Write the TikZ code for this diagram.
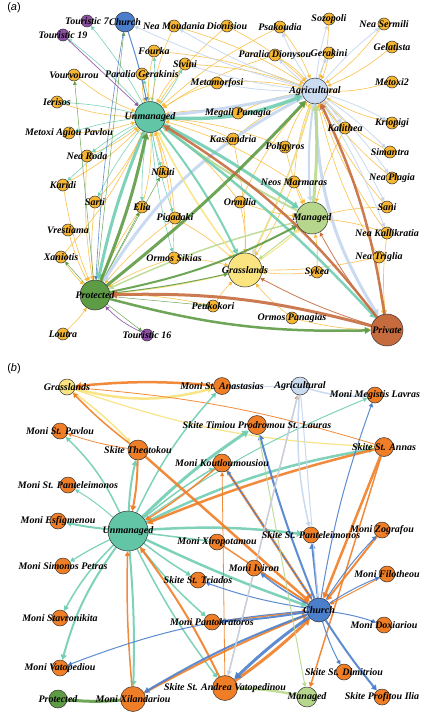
\documentclass[tikz,border=0pt]{standalone}
\usepackage{fontspec}
\setmainfont{Liberation Serif}
\setsansfont{Liberation Sans}
\usetikzlibrary{arrows.meta}
\pgfdeclarelayer{edges}
\pgfdeclarelayer{labels}
\pgfsetlayers{edges,main,labels}
\definecolor{cSet}{HTML}{F6B632}
\definecolor{cSetE}{HTML}{F8BB3A}
\definecolor{cMon}{HTML}{F07E26}
\definecolor{cUnm}{HTML}{62C6A6}
\definecolor{cUnmE}{HTML}{6FCDB1}
\definecolor{cAgr}{HTML}{CCDCF0}
\definecolor{cAgrE}{HTML}{C3D6EF}
\definecolor{cMan}{HTML}{B5D68B}
\definecolor{cManE}{HTML}{B9DA8F}
\definecolor{cGra}{HTML}{F9E47F}
\definecolor{cGraE}{HTML}{F8E27A}
\definecolor{cPri}{HTML}{C56B3E}
\definecolor{cPro}{HTML}{5E9B45}
\definecolor{cChu}{HTML}{4B7FCB}
\definecolor{cTou}{HTML}{8E4FA5}
\tikzset{
  nd/.style={circle, draw=black!80, line width=0.5pt, inner sep=0pt, minimum size=#1},
  setn/.style={nd=12pt, fill=cSet},
  monn/.style={nd=16pt, fill=cMon},
  lab/.style={font=\bfseries\itshape\fontsize{10}{11}\selectfont, inner sep=0pt, text=black},
  ed/.style={line width=#1, draw opacity=0.9, -{Triangle[length=3pt 1.2, width=3pt 1.5]}},
  ed/.default=0.6pt,
  ln/.style={line width=#1, draw opacity=0.9},
  bvl/.style={bend right=#1},
  bvr/.style={bend left=#1},
}
\newcommand{\mkn}[5]{\node[#2] (#1) at (#3,#4) {};%
  \begin{pgfonlayer}{labels}\node[lab] (#1-l) at (#3,#4) {#5};\end{pgfonlayer}}
\begin{document}
\begin{tikzpicture}[x=1pt,y=-1pt]
\useasboundingbox (0,0) rectangle (424,715);
% ---------------- panel (a) nodes
\mkn{aUnm}{nd=31pt,fill=cUnm}{150}{117}{Unmanaged}
\mkn{aAgr}{nd=26pt,fill=cAgr}{315}{91}{Agricultural}
\mkn{aMan}{nd=32pt,fill=cMan}{312}{218}{Managed}
\mkn{aGra}{nd=34pt,fill=cGra}{245}{270}{Grasslands}
\mkn{aPri}{nd=32pt,fill=cPri}{387}{330}{Private}
\mkn{aPro}{nd=30pt,fill=cPro}{95}{295}{Protected}
\mkn{aChu}{nd=20pt,fill=cChu}{125}{22}{Church}
\mkn{aTsv}{nd=12pt,fill=cTou}{87}{21}{Touristic 7}
\mkn{aTnn}{nd=12pt,fill=cTou}{63}{35}{Touristic 19}
\mkn{aTsx}{nd=12pt,fill=cTou}{147}{335}{Touristic 16}
\mkn{sNMo}{setn}{174}{26}{Nea Moudania}
\mkn{sFou}{setn}{154}{51}{Fourka}
\mkn{sSiv}{setn}{185}{64}{Sivini}
\mkn{sVou}{setn}{74}{75}{Vourvourou}
\mkn{sPGe}{setn}{142}{74}{Paralia Gerakinis}
\mkn{sIer}{setn}{57}{102}{Ierisos}
\mkn{sMAP}{setn}{69}{133}{Metoxi Agiou Pavlou}
\mkn{sNRo}{setn}{87}{156}{Nea Roda}
\mkn{sKar}{setn}{63}{185}{Karidi}
\mkn{sSar}{setn}{95}{202}{Sarti}
\mkn{sEli}{setn}{142}{207}{Elia}
\mkn{sNik}{setn}{163}{172}{Nikiti}
\mkn{sPig}{setn}{175}{218}{Pigadaki}
\mkn{sVre}{setn}{68}{230}{Vrestiama}
\mkn{sXan}{setn}{61}{257}{Xaniotis}
\mkn{sOSi}{setn}{174}{258}{Ormos Sikias}
\mkn{sLou}{setn}{63}{334}{Loutra}
\mkn{sMet}{setn}{217}{83}{Metamorfosi}
\mkn{sMPa}{setn}{238}{113}{Megali Panagia}
\mkn{sKas}{setn}{233}{139}{Kassandria}
\mkn{sOrm}{setn}{240}{202}{Ormilia}
\mkn{sPeu}{setn}{213}{306}{Peukokori}
\mkn{sDio}{setn}{227}{26}{Dionisiou}
\mkn{sPsa}{setn}{280}{27}{Psakoudia}
\mkn{sSoz}{setn}{329}{19}{Sozopoli}
\mkn{sNSe}{setn}{384}{24}{Nea Sermili}
\mkn{sPDi}{setn}{275}{55}{Paralia Dionysou}
\mkn{sGer}{setn}{329}{53}{Gerakini}
\mkn{sGel}{setn}{392}{47}{Gelatista}
\mkn{sMe2}{setn}{392}{82}{Metoxi2}
\mkn{sKal}{setn}{345}{128}{Kalithea}
\mkn{sKri}{setn}{392}{123}{Kriopigi}
\mkn{sSim}{setn}{390}{152}{Simantra}
\mkn{sPol}{setn}{285}{147}{Poligyros}
\mkn{sNMa}{setn}{294}{182}{Neos Marmaras}
\mkn{sNPl}{setn}{392}{178}{Nea Plagia}
\mkn{sSan}{setn}{387}{207}{Sani}
\mkn{sNKa}{setn}{387}{233}{Nea Kallikratia}
\mkn{sNTr}{setn}{379}{257}{Nea Triglia}
\mkn{sSyk}{setn}{317}{272}{Sykea}
\mkn{sOPa}{setn}{292}{318}{Ormos Panagias}
% ---------------- panel (b) nodes
\mkn{bGra}{nd=16pt,fill=cGra}{67}{387}{Grasslands}
\mkn{bMSPav}{monn}{60}{431}{Moni St. Pavlou}
\mkn{bSTheo}{nd=20pt,fill=cMon}{138}{450}{Skite Theotokou}
\mkn{bMSPant}{monn}{68}{485}{Moni St. Panteleimonos}
\mkn{bMEsf}{monn}{58}{521}{Moni Esfigmenou}
\mkn{bUnm}{nd=40pt,fill=cUnm}{128}{531}{Unmanaged}
\mkn{bMSim}{monn}{63}{566}{Moni Simonos Petras}
\mkn{bMStav}{monn}{60}{618}{Moni Stavronikita}
\mkn{bMVat}{monn}{60}{668}{Moni Vatopediou}
\mkn{bPro}{nd=18pt,fill=cPro}{58}{699}{Protected}
\mkn{bMXil}{nd=25pt,fill=cMon}{133}{699}{Moni Xilandariou}
\mkn{bSAnd}{nd=25pt,fill=cMon}{225}{688}{Skite St. Andrea Vatopedinou}
\mkn{bMan}{nd=20pt,fill=cMan}{307}{697}{Managed}
\mkn{bSDim}{monn}{344}{672}{Skite St. Dimitriou}
\mkn{bSProf}{monn}{382}{697}{Skite Profitou Ilia}
\mkn{bMDox}{monn}{384}{625}{Moni Doxiariou}
\mkn{bChu}{nd=24pt,fill=cChu}{319}{610}{Church}
\mkn{bMFil}{monn}{387}{574}{Moni Filotheou}
\mkn{bMIvi}{monn}{254}{568}{Moni Iviron}
\mkn{bMZog}{monn}{382}{530}{Moni Zografou}
\mkn{bSPant}{monn}{311}{535}{Skite St. Panteleimonos}
\mkn{bMXir}{monn}{217}{542}{Moni Xiropotamou}
\mkn{bSTri}{monn}{198}{580}{Skite St. Triados}
\mkn{bMPant}{monn}{212}{622}{Moni Pantokratoros}
\mkn{bMKout}{nd=18pt,fill=cMon}{222}{463}{Moni Koutloumousiou}
\mkn{bSTim}{nd=19pt,fill=cMon}{257}{425}{Skite Timiou Prodromou St. Lauras}
\mkn{bSAnn}{nd=19pt,fill=cMon}{384}{447}{Skite St. Annas}
\mkn{bMLav}{monn}{375}{395}{Moni Megistis Lavras}
\mkn{bAgr}{nd=18pt,fill=cAgr}{300}{386}{Agricultural}
\mkn{bMAna}{nd=17pt,fill=cMon}{222}{386}{Moni St. Anastasias}
\begin{pgfonlayer}{labels}
\node[font=\sffamily\fontsize{11}{12}\selectfont, inner sep=0pt] (pa) at (14,8) {(\textit{a})};
\node[font=\sffamily\fontsize{11}{12}\selectfont, inner sep=0pt] (pb) at (14,369) {(\textit{b})};
\end{pgfonlayer}
% ---------------- edges
\begin{pgfonlayer}{edges}
% panel (a): settlements
\foreach \s in {sNMo,sFou,sSiv,sVou,sPGe,sIer,sMAP,sNRo,sKar,sSar,sEli,sNik,sPig,sMet,sMPa,sKas,sOrm,sOSi,sDio,sPsa,sPol,sNMa,sPDi,sXan}
  \draw[ed,cSetE] (\s) to[bvl=8] (aUnm);
\foreach \s in {sDio,sPsa,sSoz,sNSe,sPDi,sGer,sGel,sMe2,sKal,sKri,sSim,sNPl,sSan,sNKa,sNTr,sPol,sNMa,sMet,sMPa,sKas,sSiv,sNMo,sOrm,sFou}
  \draw[ed,cSetE] (\s) to[bvr=8] (aAgr);
\foreach \s in {sXan,sLou,sSar,sKar,sVre,sPeu,sOSi,sNRo,sEli,sPig}
  \draw[ed,cSetE] (\s) to[bvl=6] (aPro);
\foreach \s in {sOPa,sSyk,sPeu,sPig,sOrm,sOSi,sNMa,sKas,sNTr}
  \draw[ed,cSetE] (\s) to[bvr=6] (aGra);
\foreach \s in {sNMa,sSyk,sKal,sPol,sSan,sNKa,sOrm}
  \draw[ed,cSetE] (\s) to[bvl=6] (aMan);
\foreach \s in {sNTr,sNKa,sOPa}
  \draw[ed,cSetE] (\s) to[bvl=6] (aPri);
\foreach \s in {aTsv,aTnn,sIer,sKar,sSar,sEli,sPig,sPGe,sSiv,sNik,sMAP,sFou,sNRo,sOSi}
  \draw[ed,cUnmE] (aUnm) to[bvl=5] (\s);
\foreach \s in {sSoz,sGer,sPsa,sKri,sSim,sKal,sNPl,sSiv,sNMo,sMet,sSan,sNSe,sPDi,sNKa}
  \draw[ed=0.8pt,cAgrE] (aAgr) to[bvr=5] (\s);
\foreach \s in {sVou,aChu,sXan,aTsx,sNik,sPeu,sEli}
  \draw[ed=0.5pt,cPro] (aPro) to (\s);
\draw[ed=1pt,cChu] (aChu) to[bvr=3] (aUnm);
\draw[ed=0.6pt,cChu] (aChu) to[bvl=3] (aPro);
\draw[ed=0.7pt,cTou] (aTnn) to (aUnm);
\draw[ed=0.7pt,cTou] (aTsx) to[bvr=10] (aPro);
\draw[ed=0.8pt,cAgrE] (aAgr) to[bvr=4] (aChu);
% panel (a): hubs
\draw[ed=3pt,cAgrE] (aAgr) to[bvl=15] (aPro);
\draw[ed=1.5pt,cAgrE] (aAgr) to[bvr=5] (aGra);
\draw[ed=2pt,cAgrE] (aAgr) to[bvl=6] (aMan);
\draw[ed=3pt,cAgrE] (aAgr) to[bvl=15] (aPri);
\draw[ed=3pt,cAgrE] (aAgr) to[bvr=3] (aUnm);
\draw[ed=3pt,cManE] (aMan) to[bvl=4] (aAgr);
\draw[ed=2pt,cManE] (aMan) to[bvr=5] (aUnm);
\draw[ed=1.5pt,cManE] (aMan) to[bvl=5] (aPro);
\draw[ed=1pt,cManE] (aMan) to (aGra);
\draw[ed=1.5pt,cGraE] (aGra) to[bvl=5] (aAgr);
\draw[ed=1.5pt,cGraE] (aGra) to[bvr=5] (aUnm);
\draw[ed=1pt,cGraE] (aGra) to[bvr=4] (aPro);
\draw[ed=1pt,cGraE] (aGra) to[bvl=4] (aMan);
\draw[ed=3.5pt,cUnmE] (aUnm) to[bvl=12] (aAgr);
\draw[ed=3pt,cUnmE] (aUnm) to[bvr=4] (aMan);
\draw[ed=2.5pt,cUnmE] (aUnm) to[bvr=5] (aPri);
\draw[ed=2pt,cUnmE] (aUnm) to[bvr=6] (aGra);
\draw[ed=3pt,cUnmE] (aUnm) to[bvl=5] (aPro);
\draw[ed=3pt,cPro] (aPro) to[bvl=5] (aUnm);
\draw[ed=3pt,cPro] (aPro) to[bvl=4] (aAgr);
\draw[ed=2pt,cPro] (aPro) to[bvl=8] (aMan);
\draw[ed=2.5pt,cPro] (aPro) to[bvl=8] (aPri);
\draw[ed=1pt,cPro] (aPro) to[bvl=3] (aGra);
\draw[ed=3pt,cPri] (aPri) to[bvl=8] (aPro);
\draw[ed=2.5pt,cPri] (aPri) to[bvl=10] (aUnm);
\draw[ed=2.5pt,cPri] (aPri) to[bvl=8] (aAgr);
\draw[ed=0.8pt,cPri] (aPri) to[bvr=5] (aMan);
\draw[ed=0.8pt,cPri] (aPri) to[bvr=5] (aGra);
% panel (b)
\draw[ed=2.5pt,cGraE] (bGra) to[bvl=14] (bMAna);
\draw[ed=2.5pt,cMon] (bMAna) to[bvl=5] (bGra);
\draw[ed=1.5pt,cGraE] (bGra) to[bvr=4] (bSTheo);
\draw[ed=1.5pt,cMon] (bSTheo) to[bvr=4] (bGra);
\draw[ed=1.2pt,cGraE] (bGra) to[bvl=8] (bSAnn);
\draw[ed=0.8pt,cMon] (bSAnn) to[bvl=6] (bGra);
\draw[ed=0.8pt,cMon] (bSTheo) to[bvr=5] (bMSPav);
\draw[ed=1.5pt,cUnmE] (bUnm) to[bvl=10] (bMSPav);
\draw[ed=1pt,cUnmE] (bUnm) to[bvl=5] (bMSPant);
\draw[ed=2pt,cUnmE] (bUnm) to[bvr=3] (bMEsf);
\draw[ed=1.2pt,cUnmE] (bUnm) to[bvl=3] (bMSim);
\draw[ed=1.5pt,cUnmE] (bUnm) to[bvl=8] (bMStav);
\draw[ed=2pt,cUnmE] (bUnm) to[bvl=10] (bMVat);
\draw[ed=2pt,cUnmE] (bUnm) to[bvr=3] (bMXil);
\draw[ed=1.5pt,cMon] (bMXil) to[bvr=3] (bUnm);
\draw[ed=2pt,cUnmE] (bUnm) to[bvr=5] (bSTheo);
\draw[ed=2pt,cMon] (bSTheo) to[bvr=5] (bUnm);
\draw[ed=1.5pt,cUnmE] (bUnm) to[bvr=8] (bMAna);
\draw[ed=3pt,cUnmE] (bUnm) to[bvr=5] (bSTim);
\draw[ed=1.5pt,cUnmE] (bUnm) to[bvr=4] (bMKout);
\draw[ed=1pt,cUnmE] (bUnm) to[bvr=6] (bMLav);
\draw[ed=2.5pt,cUnmE] (bUnm) to[bvr=8] (bSAnn);
\draw[ed=2.5pt,cUnmE] (bUnm) to[bvr=5] (bSPant);
\draw[ed=2.5pt,cUnmE] (bUnm) to[bvl=3] (bChu);
\draw[ed=1.5pt,cUnmE] (bUnm) to[bvl=3] (bSTri);
\draw[ed=1.5pt,cUnmE] (bUnm) to[bvl=5] (bMPant);
\draw[ed=1.5pt,cUnmE] (bUnm) to[bvl=5] (bSAnd);
\draw[ed=1.5pt,cUnmE] (bUnm) to (bMXir);
\draw[ed=1.5pt,cMon] (bMKout) to[bvr=4] (bUnm);
\draw[ed=2.5pt,cMon] (bSAnn) to[bvl=4] (bUnm);
\draw[ed=2pt,cMon] (bSAnd) to[bvl=5] (bUnm);
\draw[ed=2.5pt,cMon] (bSTheo) to (bChu);
\draw[ed=2.5pt,cMon] (bMKout) to (bChu);
\draw[ed=2.5pt,cMon] (bSAnn) to (bChu);
\draw[ed=1.5pt,cMon] (bSAnn) to (bMan);
\draw[ed=1.5pt,cMon] (bMXir) to (bChu);
\draw[ed=1.5pt,cMon] (bMIvi) to (bChu);
\draw[ed=3pt,cMon] (bSAnd) to[bvl=4] (bChu);
\draw[ed=2pt,cMon] (bMXil) to[bvr=3] (bChu);
\draw[ed=2pt,cMon] (bMZog) to (bChu);
\draw[ed=1pt,cMon] (bMFil) to (bChu);
\draw[ed=1pt,cMon] (bSAnd) to (bAgr);
\draw[ed=0.8pt,cMon] (bSAnd) to (bMKout);
\draw[ed=1.5pt,cMon] (bMPant) to (bChu);
\draw[ed=3pt,cChu] (bChu) to[bvl=4] (bSAnd);
\draw[ed=2pt,cChu] (bChu) to[bvl=5] (bMXil);
\draw[ed=1pt,cChu] (bChu) to[bvl=8] (bMVat);
\draw[ed=1pt,cChu] (bChu) to[bvr=5] (bSTri);
\draw[ed=2pt,cChu] (bChu) to[bvr=3] (bMPant);
\draw[ed=1.5pt,cChu] (bChu) to[bvr=5] (bMIvi);
\draw[ed=2pt,cChu] (bChu) to (bSPant);
\draw[ed=1pt,cChu] (bChu) to[bvr=5] (bMZog);
\draw[ed=1pt,cChu] (bChu) to[bvr=5] (bMFil);
\draw[ed=1pt,cChu] (bChu) to[bvr=5] (bMDox);
\draw[ed=1pt,cChu] (bChu) to[bvl=5] (bSDim);
\draw[ed=2pt,cChu] (bChu) to[bvl=3] (bSProf);
\draw[ed=1pt,cChu] (bChu) to[bvr=5] (bMLav);
\draw[ed=1pt,cChu] (bChu) to (bMKout);
\draw[ed=2pt,cChu] (bChu) to[bvr=3] (bSTim);
\draw[ln=3pt,cPro] (bPro) to[bvl=5] (bMXil);
\draw[ln=2.5pt,cManE] (bSAnd) to[bvr=5] (bMan);
\draw[ed=1pt,cManE] (bSTim) to (bMan);
\draw[ed=1.5pt,cAgrE] (bAgr) to[bvl=10] (bMLav);
\draw[ed=1.5pt,cAgrE] (bAgr) to[bvl=8] (bSPant);
\draw[ed=1.5pt,cAgrE] (bAgr) to (bSAnd);
\draw[ed=1pt,cAgrE] (bAgr) to (bMAna);
\draw[ed=1pt,cAgrE] (bAgr) to (bChu);
\end{pgfonlayer}
\end{tikzpicture}
\end{document}
